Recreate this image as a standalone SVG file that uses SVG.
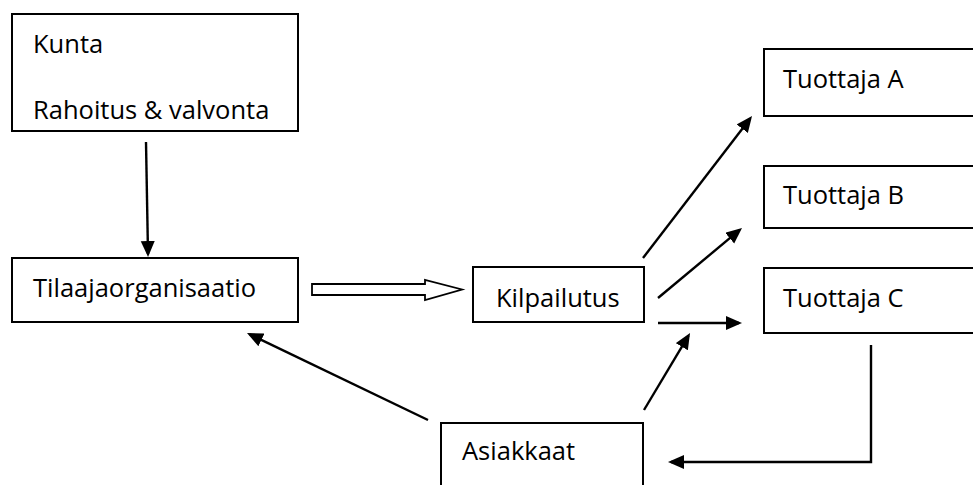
<svg xmlns="http://www.w3.org/2000/svg" width="973" height="485" viewBox="0 0 973 485">
<defs>
<style>
.box{fill:#fff;stroke:#000;stroke-width:2}
.lbl{font-family:"Open Sans","Noto Sans",sans-serif;font-size:25.5px;fill:#000}
.con{fill:none;stroke:#000;stroke-width:2.4}
</style>
<marker id="ah" markerUnits="userSpaceOnUse" markerWidth="17" markerHeight="15" refX="13" refY="7" orient="auto">
<path d="M0,0 L16,7 L0,14 z" fill="#000"/>
</marker>
</defs>
<rect width="973" height="485" fill="#fff"/>
<g id="kunta">
<rect class="box" x="12" y="14" width="286" height="117"/>
<text class="lbl" x="33" y="53">Kunta</text>
<text class="lbl" x="33" y="119">Rahoitus &amp; valvonta</text>
</g>
<g id="tilaaja">
<rect class="box" x="12" y="258" width="286" height="64"/>
<text class="lbl" x="33" y="297">Tilaajaorganisaatio</text>
</g>
<g id="kilpailutus">
<rect class="box" x="473" y="267" width="171" height="55"/>
<text class="lbl" x="496" y="307">Kilpailutus</text>
</g>
<g id="tuottajaA">
<rect class="box" x="764" y="49" width="230" height="67"/>
<text class="lbl" x="783" y="88">Tuottaja A</text>
</g>
<g id="tuottajaB">
<rect class="box" x="764" y="166" width="230" height="62"/>
<text class="lbl" x="783" y="204">Tuottaja B</text>
</g>
<g id="tuottajaC">
<rect class="box" x="764" y="268" width="230" height="65"/>
<text class="lbl" x="783" y="307">Tuottaja C</text>
</g>
<g id="asiakkaat">
<rect class="box" x="441" y="423" width="202" height="80"/>
<text class="lbl" x="462" y="460">Asiakkaat</text>
</g>
<g id="connectors">
<path class="con" d="M146,142 L148,254" marker-end="url(#ah)"/>
<polygon points="312,284 425,284 425,280 462,289.5 425,300 425,295 312,295" fill="#fff" stroke="#000" stroke-width="1.8"/>
<path class="con" d="M643,258 L750.2,118.4" marker-end="url(#ah)"/>
<path class="con" d="M658,298 L739.7,229.9" marker-end="url(#ah)"/>
<path class="con" d="M658,323 L739,323" marker-end="url(#ah)"/>
<path class="con" d="M644,410 L688.5,335.6" marker-end="url(#ah)"/>
<path class="con" d="M871,345 L871,462 L671,462" marker-end="url(#ah)"/>
<path class="con" d="M428,420 L249.7,334.3" marker-end="url(#ah)"/>
</g>
</svg>
